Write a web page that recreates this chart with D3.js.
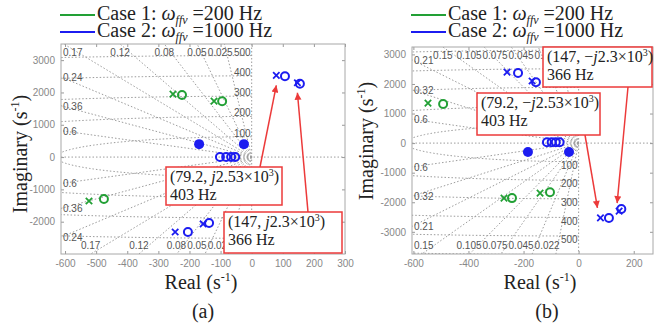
<!DOCTYPE html>
<html>
<head>
<meta charset="UTF-8">
<title>Pole-zero maps</title>
<style>
  * { margin: 0; padding: 0; overflow: hidden; }
  body { background: #fff; }
  text { font-family: "Liberation Sans", Arial, sans-serif; }
  .serif { font-family: "Liberation Serif", "Times New Roman", serif; }
</style>
<script src="https://d3js.org/d3.v7.min.js"></script>
</head>
<body>
<script>
const WIDTH = 657, HEIGHT = 327;
const GREEN = "#22a035", BLUE = "#1c1cf0", RED = "#ec3a3a", GRID = "#9c9c9c";

// legend
const legendCases = ["Case 1", "Case 2"];
const legendFreq = [200, 1000];

// ---- panel (a) ----
const zetaA = [0.6, 0.36, 0.24, 0.17, 0.12, 0.08, 0.05, 0.025];
const freqA = [100, 200, 300, 400, 500, 600];
const xTicksA = [-600, -500, -400, -300, -200, -100, 0, 100, 200, 300];
const yTicksA = [-2000, -1000, 0, 1000, 2000, 3000];
const c1PolesA = [[-253, 1950], [-121, 1730], [-523, -1360]];
const c1ZerosA = [[-224, 1920], [-95, 1730], [-475, -1300]];
const c2PolesA = [[79.2, 2530], [147, 2300], [-246, -2320], [-156, -2070]];
const c2ZerosA = [[107, 2500], [155, 2270], [-205, -2320], [-137, -2040]];
const c2DotsA = [[-169, 400], [-25, 400]];
const c2RealA = [[-102, 0], [-82, 0], [-66, 0], [-53, 0]];
const annoReA = [79.2, 147];
const annoImA = [2.53, 2.3];
const annoHzA = [403, 366];

// ---- panel (b) ----
const zetaB = [0.6, 0.32, 0.21, 0.15, 0.105, 0.075, 0.045, 0.022];
const freqB = [100, 200, 300, 400, 500, 600];
const xTicksB = [-600, -400, -200, 0, 200];
const yTicksB = [-3000, -2000, -1000, 0, 1000, 2000, 3000];
const c1PolesB = [[-547, 1350], [-271, -1860], [-140, -1690]];
const c1ZerosB = [[-492, 1320], [-242, -1860], [-104, -1660]];
const c2PolesB = [[-260, 2400], [-169, 2100], [79.2, -2530], [147, -2300]];
const c2ZerosB = [[-220, 2370], [-155, 2060], [110, -2530], [155, -2230]];
const c2DotsB = [[-184, -300], [-35, -300]];
const c2RealB = [[-115, 30], [-98, 30], [-83, 30], [-69, 30]];
const annoReB = [147, 79.2];
const annoImB = [-2.3, -2.53];
const annoHzB = [366, 403];

const svg = d3.select("body").append("svg")
  .attr("width", WIDTH).attr("height", HEIGHT);

svg.append("defs").append("marker")
  .attr("id", "arrow").attr("viewBox", "0 0 10 10")
  .attr("refX", 10).attr("refY", 5)
  .attr("markerWidth", 9).attr("markerHeight", 7)
  .attr("markerUnits", "userSpaceOnUse").attr("orient", "auto")
  .append("path").attr("d", "M0,0L10,5L0,10z").attr("fill", RED);

const panels = [
  {
    id: "a", left: 61, right: 345, top: 44, bottom: 254,
    xDomain: [-613, 300], yDomain: [-3000, 3500],
    zeta: zetaA, freq: freqA, freqSide: 1, xTicks: xTicksA, yTicks: yTicksA,
    c1p: c1PolesA, c1z: c1ZerosA, c2p: c2PolesA, c2z: c2ZerosA, dots: c2DotsA, real: c2RealA,
    legendX: 60, yLabelX: 27, yLabelY: 154, xLabelX: 201, capX: 203,
    annos: [
      { re: annoReA[0], im: annoImA[0], hz: annoHzA[0], bx: 166, by: 167, bw: 116, bh: 38, ax: 94, top: true, tdx: 0, tdy: 10 },
      { re: annoReA[1], im: annoImA[1], hz: annoHzA[1], bx: 224, by: 212, bw: 118, bh: 41, ax: 84, top: true, tdx: 0, tdy: 10 }
    ]
  },
  {
    id: "b", left: 412, right: 653, top: 47, bottom: 254,
    xDomain: [-605, 270], yDomain: [-3750, 3250],
    zeta: zetaB, freq: freqB, freqSide: -1, xTicks: xTicksB, yTicks: yTicksB,
    c1p: c1PolesB, c1z: c1ZerosB, c2p: c2PolesB, c2z: c2ZerosB, dots: c2DotsB, real: c2RealB,
    legendX: 411, yLabelX: 373, yLabelY: 141, xLabelX: 540, capX: 547,
    annos: [
      { re: annoReB[0], im: annoImB[0], hz: annoHzB[0], bx: 543, by: 47, bw: 109, bh: 40, ax: 85, top: false, tdx: -2, tdy: -8 },
      { re: annoReB[1], im: annoImB[1], hz: annoHzB[1], bx: 477, by: 93, bw: 123, bh: 42, ax: 108, top: false, tdx: -3, tdy: -10 }
    ]
  }
];

panels.forEach(p => drawPanel(p));

function drawPanel(p) {
  const g = svg.append("g");
  const x = d3.scaleLinear().domain(p.xDomain).range([p.left, p.right]);
  const y = d3.scaleLinear().domain(p.yDomain).range([p.bottom, p.top]);

  svg.append("clipPath").attr("id", "clip-" + p.id).append("rect")
    .attr("x", p.left).attr("y", p.top)
    .attr("width", p.right - p.left).attr("height", p.bottom - p.top);

  // grid: damping lines and frequency circles
  const grid = g.append("g").attr("clip-path", `url(#clip-${p.id})`)
    .attr("fill", "none").attr("stroke", GRID)
    .attr("stroke-width", 1).attr("stroke-dasharray", "1.5,2");

  grid.append("line").attr("x1", p.left).attr("x2", p.right).attr("y1", y(0)).attr("y2", y(0));
  grid.append("line").attr("x1", x(0)).attr("x2", x(0)).attr("y1", p.top).attr("y2", p.bottom);

  const edgeHit = (z, sg) => {
    const s = Math.sqrt(1 - z * z);
    const yLim = sg > 0 ? p.yDomain[1] : p.yDomain[0];
    const tX = p.xDomain[0] / -z;
    const tY = yLim / (sg * s);
    return tY < tX
      ? { side: sg > 0 ? "top" : "bottom", re: -z * tY, im: yLim }
      : { side: "left", re: p.xDomain[0], im: sg * s * tX };
  };

  const hits = [];
  p.zeta.forEach(z => [1, -1].forEach(sg => {
    const h = edgeHit(z, sg);
    h.z = z;
    hits.push(h);
    grid.append("line")
      .attr("x1", x(0)).attr("y1", y(0))
      .attr("x2", x(h.re)).attr("y2", y(h.im));
  }));

  const arcLine = d3.line().x(d => x(d[0])).y(d => y(d[1]));
  p.freq.forEach(f => {
    const wn = 2 * Math.PI * f;
    const pts = d3.range(0, 181).map(i => {
      const a = Math.PI / 2 + i * Math.PI / 180;
      return [wn * Math.cos(a), wn * Math.sin(a)];
    });
    grid.append("path").attr("d", arcLine(pts));
  });

  // grid labels: centred on the edge crossing, packed right to left
  const lab = g.append("g").attr("font-size", 10).attr("fill", "#555");
  ["top", "bottom"].forEach(side => {
    const row = hits.filter(h => h.side === side).sort((a, b) => b.re - a.re);
    let limit = x(0) - 19;
    row.forEach(h => {
      const t = lab.append("text").text(h.z)
        .attr("y", side === "top" ? p.top + 12 : p.bottom - 5);
      const w = t.node().getComputedTextLength();
      let start = Math.min(x(h.re) - w / 2, limit - w);
      start = Math.max(start, p.left + 2);
      t.attr("x", start);
      limit = start - 1;
    });
  });
  hits.filter(h => h.side === "left").forEach(h => {
    lab.append("text").text(h.z)
      .attr("x", p.left + 2).attr("y", y(h.im) + 4);
  });
  p.freq.forEach(f => {
    const wn = 2 * Math.PI * f * p.freqSide;
    if (wn < p.yDomain[0] || wn > p.yDomain[1]) return;
    lab.append("text").text(f)
      .attr("x", x(0) - 1).attr("y", y(wn))
      .attr("text-anchor", "end")
      .attr("dominant-baseline", p.freqSide > 0 ? "auto" : "hanging");
  });

  // axes with inward ticks
  const styleAxis = sel => {
    sel.select(".domain").remove();
    sel.selectAll("line").attr("stroke", "#999");
    sel.selectAll("text").attr("fill", "#888").attr("font-size", 10)
      .attr("font-family", "Liberation Sans, Arial, sans-serif");
  };
  g.append("g").attr("transform", `translate(0,${p.bottom})`)
    .call(d3.axisBottom(x).tickValues(p.xTicks).tickSize(-3).tickPadding(6).tickFormat(d => String(d)))
    .call(styleAxis);
  g.append("g").attr("transform", `translate(0,${p.top})`)
    .call(d3.axisTop(x).tickValues(p.xTicks).tickSize(-3).tickFormat(""))
    .call(styleAxis);
  g.append("g").attr("transform", `translate(${p.left},0)`)
    .call(d3.axisLeft(y).tickValues(p.yTicks).tickSize(-3).tickPadding(6).tickFormat(d => String(d)))
    .call(styleAxis);
  g.append("g").attr("transform", `translate(${p.right},0)`)
    .call(d3.axisRight(y).tickValues(p.yTicks).tickSize(-3).tickFormat(""))
    .call(styleAxis);

  g.append("rect")
    .attr("x", p.left).attr("y", p.top)
    .attr("width", p.right - p.left).attr("height", p.bottom - p.top)
    .attr("fill", "none").attr("stroke", "#a8a8a8");

  // markers
  const cross = d => {
    const cx = x(d[0]), cy = y(d[1]), r = 3.2;
    return `M${cx - r},${cy - r}L${cx + r},${cy + r}M${cx - r},${cy + r}L${cx + r},${cy - r}`;
  };
  const drawCross = (data, color) => g.append("g").selectAll("path").data(data).enter()
    .append("path").attr("d", cross).attr("stroke", color).attr("stroke-width", 1.8).attr("fill", "none");
  const drawRing = (data, color, r) => g.append("g").selectAll("circle").data(data).enter()
    .append("circle").attr("cx", d => x(d[0])).attr("cy", d => y(d[1])).attr("r", r)
    .attr("stroke", color).attr("stroke-width", 2).attr("fill", "none");

  drawCross(p.c1p, GREEN);
  drawRing(p.c1z, GREEN, 4);
  drawCross(p.c2p, BLUE);
  drawRing(p.c2z, BLUE, 4);
  drawRing(p.real, BLUE, 4);
  g.append("g").selectAll("circle").data(p.dots).enter()
    .append("circle").attr("cx", d => x(d[0])).attr("cy", d => y(d[1])).attr("r", 5)
    .attr("fill", BLUE);

  // annotations
  p.annos.forEach(a => {
    const ag = g.append("g");
    const tipX = x(a.re) + a.tdx, tipY = y(a.im * 1000) + a.tdy;
    ag.append("line")
      .attr("x1", a.bx + a.ax).attr("y1", a.top ? a.by : a.by + a.bh)
      .attr("x2", tipX).attr("y2", tipY)
      .attr("stroke", RED).attr("stroke-width", 1.5)
      .attr("marker-end", "url(#arrow)");
    ag.append("rect")
      .attr("x", a.bx).attr("y", a.by).attr("width", a.bw).attr("height", a.bh)
      .attr("fill", "white").attr("stroke", RED).attr("stroke-width", 1.5);
    const t1 = ag.append("text").attr("class", "serif").attr("font-size", 16)
      .attr("fill", "#222").attr("x", a.bx + 4).attr("y", a.by + 15);
    t1.append("tspan").text(`(${a.re}, ${a.im < 0 ? "\u2212" : ""}`);
    t1.append("tspan").attr("font-style", "italic").text("j");
    t1.append("tspan").text(`${Math.abs(a.im)}\u00d710`);
    t1.append("tspan").attr("font-size", 10).attr("dy", -6).text("3");
    t1.append("tspan").attr("dy", 6).text(")");
    ag.append("text").attr("class", "serif").attr("font-size", 16)
      .attr("fill", "#222").attr("x", a.bx + 4).attr("y", a.by + 33)
      .text(`${a.hz} Hz`);
  });

  // legend
  const leg = svg.append("g").attr("class", "serif");
  legendCases.forEach((c, i) => {
    leg.append("line")
      .attr("x1", p.legendX).attr("x2", p.legendX + 35)
      .attr("y1", 15 + i * 17).attr("y2", 15 + i * 17)
      .attr("stroke", i === 0 ? GREEN : BLUE).attr("stroke-width", 2);
    const t = leg.append("text").attr("class", "serif").attr("font-size", 20)
      .attr("fill", "#222").attr("x", p.legendX + 37).attr("y", 20 + i * 17);
    t.append("tspan").text(c + ": ");
    t.append("tspan").attr("font-style", "italic").text("\u03c9");
    t.append("tspan").attr("font-style", "italic").attr("font-size", 12).attr("dy", 4).text("ffv");
    t.append("tspan").attr("dy", -4).text(" =" + legendFreq[i] + " Hz");
  });

  // axis titles
  const yl = svg.append("text").attr("class", "serif").attr("font-size", 20).attr("fill", "#222")
    .attr("text-anchor", "middle")
    .attr("transform", `translate(${p.yLabelX},${p.yLabelY}) rotate(-90)`);
  yl.append("tspan").text("Imaginary (s");
  yl.append("tspan").attr("font-size", 12).attr("dy", -8).text("-1");
  yl.append("tspan").attr("dy", 8).text(")");

  const xl = svg.append("text").attr("class", "serif").attr("font-size", 20).attr("fill", "#222")
    .attr("text-anchor", "middle").attr("x", p.xLabelX).attr("y", 289);
  xl.append("tspan").text("Real (s");
  xl.append("tspan").attr("font-size", 12).attr("dy", -8).text("-1");
  xl.append("tspan").attr("dy", 8).text(")");

  svg.append("text").attr("class", "serif").attr("font-size", 20).attr("fill", "#222")
    .attr("text-anchor", "middle").attr("x", p.capX).attr("y", 318)
    .text(`(${p.id})`);
}
</script>
</body>
</html>
